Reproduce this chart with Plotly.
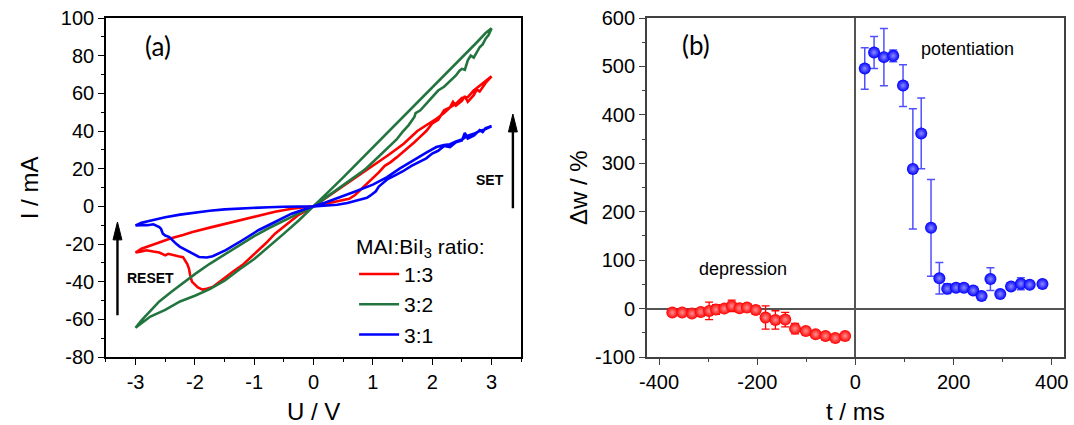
import plotly.graph_objects as go

# ---------------- (a) I-V loops, one closed sweep per composition ----------------
# sweep order: 0 -> +3 V, +3 -> 0 V, 0 -> -3 V, -3 -> 0 V
u_13 = [0, 0.1, 0.2, 0.3, 0.4, 0.5, 0.6, 0.7, 0.8, 0.9, 1.0, 1.1, 1.2, 1.3, 1.4, 1.5, 1.6, 1.7,
        1.8, 1.9, 2.0, 2.1, 2.2, 2.3, 2.35, 2.4, 2.5, 2.55, 2.6, 2.7, 2.75, 2.8, 2.9, 3.0,
        2.9, 2.8, 2.7, 2.6, 2.5, 2.4, 2.3, 2.2, 2.07, 1.75, 1.52, 1.25, 0.96, 0.7, 0.4, 0.2, 0,
        -0.25, -0.37, -0.5, -0.65, -0.8, -0.93, -1.05, -1.2, -1.35, -1.48, -1.6, -1.7, -1.8, -1.87,
        -1.95, -2.0, -2.05, -2.08, -2.1, -2.13, -2.16, -2.2, -2.28, -2.37, -2.45, -2.5, -2.6, -2.7,
        -2.82, -2.9, -3.0,
        -2.9, -2.75, -2.6, -2.4, -2.2, -2.04, -1.75, -1.48, -1.2, -0.93, -0.65, -0.37, 0]
i_13 = [0, 0.6, 1.2, 1.8, 2.4, 3.1, 4.0, 6.0, 9.0, 11.5, 14.5, 18.0, 21.5, 23.5, 26.0, 28.5, 31.0, 34.0,
        37.0, 40.0, 44.0, 46.0, 51.0, 52.5, 55.5, 53.5, 56.0, 58.5, 55.5, 59.0, 62.0, 61.0, 65.5, 69.0,
        66.5, 64.0, 61.5, 58.0, 57.5, 54.5, 52.5, 49.5, 46.5, 40.0, 33.2, 27.0, 20.8, 15.0, 8.5, 4.2, 0,
        -4.5, -7.4, -10.5, -14.5, -19.5, -23.3, -26.5, -31.2, -34.5, -37.5, -40.5, -42.8, -43.8, -44.2,
        -43.1, -41.5, -40.0, -36.5, -33.0, -30.5, -29.0, -27.0, -26.5, -26.0, -25.2, -26.0, -24.5, -24.0,
        -23.3, -24.0, -24.5,
        -22.5, -20.8, -18.9, -17.0, -15.2, -13.6, -11.3, -9.2, -7.0, -4.8, -2.9, -1.3, 0]

u_32 = [0, 0.1, 0.2, 0.3, 0.4, 0.5, 0.6, 0.7, 0.8, 0.9, 1.0, 1.1, 1.2, 1.3, 1.35, 1.4, 1.5, 1.6, 1.7,
        1.72, 1.8, 1.9, 2.0, 2.1, 2.2, 2.3, 2.4, 2.46, 2.5, 2.55, 2.6, 2.65, 2.7, 2.8, 2.85, 2.9, 2.95, 3.0,
        2.9, 2.75, 2.5, 2.25, 2.0, 1.75, 1.5, 1.25, 1.0, 0.75, 0.5, 0.25, 0,
        -0.25, -0.5, -0.75, -1.0, -1.25, -1.5, -1.75, -2.0, -2.25, -2.5, -2.75, -3.0,
        -2.9, -2.75, -2.6, -2.4, -2.2, -2.0, -1.75, -1.5, -1.25, -1.0, -0.75, -0.5, -0.25, 0]
i_32 = [0, 2.2, 4.5, 6.8, 9.0, 11.3, 13.5, 15.8, 18.0, 20.5, 23.5, 26.5, 29.5, 33.0, 34.5, 35.5, 39.5, 43.0, 47.5,
        49.5, 51.0, 54.5, 57.5, 61.5, 63.5, 66.5, 69.5, 72.0, 73.0, 72.5, 77.5, 80.0, 79.0, 84.5, 86.0, 89.0, 91.0, 94.5,
        92.0, 87.0, 79.0, 71.0, 63.0, 55.0, 47.0, 39.0, 31.0, 23.2, 15.4, 7.7, 0,
        -7.5, -14.5, -21.5, -28.0, -33.5, -39.5, -44.0, -47.5, -50.5, -55.0, -58.5, -64.5,
        -60.5, -55.5, -50.5, -45.5, -40.5, -36.0, -30.5, -25.5, -20.5, -15.8, -11.5, -7.5, -3.7, 0]

u_31 = [0, 0.2, 0.4, 0.57, 0.7, 0.8, 0.9, 0.96, 1.05, 1.1, 1.18, 1.25, 1.35, 1.5, 1.65, 1.8, 1.9, 2.0,
        2.1, 2.2, 2.3, 2.4, 2.5, 2.55, 2.6, 2.7, 2.8, 2.85, 2.9, 3.0,
        2.9, 2.8, 2.7, 2.6, 2.5, 2.4, 2.3, 2.2, 2.07, 1.9, 1.68, 1.45, 1.24, 1.0, 0.68, 0.4, 0.2, 0,
        -0.37, -0.65, -0.93, -1.2, -1.48, -1.7, -1.8, -1.93, -2.05, -2.15, -2.25, -2.32, -2.38, -2.43,
        -2.5, -2.54, -2.57, -2.6, -2.7, -2.8, -2.9, -3.0,
        -2.9, -2.75, -2.5, -2.25, -2.0, -1.75, -1.5, -1.25, -1.0, -0.75, -0.5, -0.25, 0]
i_31 = [0, 0.3, 0.8, 1.8, 2.8, 3.6, 4.5, 5.8, 8.0, 10.5, 12.5, 14.5, 16.0, 18.5, 21.5, 24.0, 25.5, 28.0,
        29.5, 32.0, 31.5, 34.0, 35.0, 39.0, 36.0, 37.5, 40.5, 39.5, 41.5, 42.5,
        41.0, 40.0, 38.5, 37.5, 35.5, 34.5, 33.0, 32.5, 31.5, 28.5, 24.4, 20.0, 15.5, 11.5, 7.6, 4.2, 2.0, 0,
        -3.9, -8.3, -12.7, -18.0, -23.3, -26.5, -27.2, -26.9, -25.0, -23.3, -21.5, -19.8, -18.0, -16.3,
        -15.5, -14.5, -12.0, -11.0, -9.5, -10.0, -10.0, -10.2,
        -8.7, -7.5, -5.8, -4.4, -3.2, -2.3, -1.6, -1.1, -0.7, -0.45, -0.25, -0.1, 0]

# ---------------- (b) weight change vs. spike timing ----------------
t_dep = [-373, -353, -333, -315, -298, -284, -267, -252, -236, -221,
         -203, -183, -163, -143, -123, -101, -81, -61, -41, -21]
w_dep = [-8.3, -8.3, -10.4, -6.9, -4.8, -2.1, 0.0, 5.5, 0.7, 2.0,
         -2.8, -18.6, -23.5, -22.8, -41.4, -46.2, -53.1, -56.6, -60.7, -56.6]
e_dep = [3, 3, 3, 4, 18, 10, 5, 12, 5, 6,
         8, 24, 19, 15, 11, 5, 3, 3, 3, 3]

t_pot = [19, 38, 58, 77, 97, 117, 134, 154, 171, 187,
         205, 221, 240, 257, 275, 295, 317, 337, 355, 381]
w_pot = [495.7, 528.8, 519.2, 521.9, 460.4, 288.4, 361.6, 166.7, 62.4, 41.0,
         43.1, 43.1, 37.5, 25.8, 61.0, 29.9, 45.8, 51.3, 49.3, 50.6]
e_pot = [43, 33, 59, 12, 43, 124, 73, 100, 32.5, 10,
         8, 5, 4, 3, 23.5, 4, 5, 12.5, 4, 4]

# tick labels (plain hyphen for negatives)
u_ticks = [-3, -2, -1, 0, 1, 2, 3]
i_ticks = [-80, -60, -40, -20, 0, 20, 40, 60, 80, 100]
t_ticks = [-400, -200, 0, 200, 400]
w_ticks = [-100, 0, 100, 200, 300, 400, 500, 600]

RED = "#ff0000"
GREEN = "#237540"
BLUE = "#0000ff"
FONT = "Arial, Liberation Sans, sans-serif"

fig = go.Figure()

for u, i, name, col in [(u_13, i_13, "1:3", RED), (u_32, i_32, "3:2", GREEN), (u_31, i_31, "3:1", BLUE)]:
    fig.add_trace(go.Scatter(x=u, y=i, mode="lines", name=name,
                             line=dict(color=col, width=2.6), xaxis="x", yaxis="y"))

fig.add_trace(go.Scatter(
    x=t_dep, y=w_dep, mode="markers", showlegend=False, xaxis="x2", yaxis="y2",
    marker=dict(size=12, color=RED, line=dict(width=0),
                gradient=dict(type="radial", color="#ff9090")),
    error_y=dict(type="data", array=e_dep, visible=True, color=RED, thickness=1.3, width=4)))
fig.add_trace(go.Scatter(
    x=t_pot, y=w_pot, mode="markers", showlegend=False, xaxis="x2", yaxis="y2",
    marker=dict(size=12, color=BLUE, line=dict(width=0),
                gradient=dict(type="radial", color="#8c8cff")),
    error_y=dict(type="data", array=e_pot, visible=True, color="#5050ff", thickness=1.5, width=4)))


def labels(vals):
    return [str(v) for v in vals]


tickfont = dict(family=FONT, size=20, color="black")
common = dict(showline=True, mirror=True, linewidth=1.5, ticks="outside", ticklen=6,
              tickwidth=1.3, showgrid=False, tickfont=tickfont, tickmode="array")

fig.update_layout(
    width=1074, height=425,
    margin=dict(l=0, r=0, t=18, b=68),
    paper_bgcolor="white", plot_bgcolor="white",
    font=dict(family=FONT, color="black"),
    xaxis=dict(domain=[99 / 1074, 519 / 1074], range=[-3.5, 3.5],
               tickvals=u_ticks, ticktext=labels(u_ticks), zeroline=False,
               linecolor="black", tickcolor="black",
               minor=dict(dtick=0.5, ticklen=3.5, ticks="outside", tickcolor="black"), **common),
    yaxis=dict(range=[-80, 100], tickvals=i_ticks, ticktext=labels(i_ticks),
               zeroline=False, linecolor="black", tickcolor="black",
               minor=dict(dtick=10, ticklen=3.5, ticks="outside", tickcolor="black"), **common),
    xaxis2=dict(domain=[646 / 1074, 1068 / 1074], range=[-425, 425],
                tickvals=t_ticks, ticktext=labels(t_ticks), anchor="y2",
                zeroline=True, zerolinecolor="#555555", zerolinewidth=1.5,
                linecolor="#404040", tickcolor="#404040",
                minor=dict(dtick=100, ticklen=3.5, ticks="outside", tickcolor="#404040"), **common),
    yaxis2=dict(range=[-100, 600], tickvals=w_ticks, ticktext=labels(w_ticks), anchor="x2",
                zeroline=True, zerolinecolor="#555555", zerolinewidth=1.5,
                linecolor="#404040", tickcolor="#404040",
                minor=dict(dtick=50, ticklen=3.5, ticks="outside", tickcolor="#404040"), **common),
    legend=dict(x=350 / 1074, y=0.385, xanchor="left", yanchor="top",
                bgcolor="rgba(0,0,0,0)", font=dict(family=FONT, size=21),
                title=dict(text="MAI:BiI<sub>3</sub> ratio:", font=dict(family=FONT, size=21)),
                itemwidth=40, tracegroupgap=0),
)

ann = []
# axis titles
ann.append(dict(text="U / V", xref="paper", yref="paper", x=309 / 1074, y=(357 - 411) / 339,
                showarrow=False, font=dict(size=24), xanchor="center", yanchor="middle"))
ann.append(dict(text="t / ms", xref="paper", yref="paper", x=857 / 1074, y=(357 - 411) / 339,
                showarrow=False, font=dict(size=24), xanchor="center", yanchor="middle"))
ann.append(dict(text="I / mA", xref="paper", yref="paper", x=22 / 1074, y=0.5, textangle=-90,
                showarrow=False, font=dict(size=24), xanchor="center", yanchor="middle"))
ann.append(dict(text="\u0394w / %", xref="paper", yref="paper", x=577 / 1074, y=0.5, textangle=-90,
                showarrow=False, font=dict(size=24), xanchor="center", yanchor="middle"))
# panel labels
ann.append(dict(text="(a)", xref="x", yref="y", x=-2.62, y=85.4, showarrow=False,
                font=dict(size=26, family="Lato, sans-serif")))
ann.append(dict(text="(b)", xref="x2", yref="y2", x=-325, y=544, showarrow=False,
                font=dict(size=26, family="Lato, sans-serif")))
ann.append(dict(text="potentiation", xref="x2", yref="y2", x=228, y=536, showarrow=False,
                font=dict(size=18)))
ann.append(dict(text="depression", xref="x2", yref="y2", x=-228, y=82, showarrow=False,
                font=dict(size=18)))
ann.append(dict(text="<b>SET</b>", xref="x", yref="y", x=2.97, y=13.8, showarrow=False,
                font=dict(size=14)))
ann.append(dict(text="<b>RESET</b>", xref="x", yref="y", x=-2.75, y=-37.8, showarrow=False,
                font=dict(size=14)))
fig.update_layout(annotations=ann)

# SET / RESET arrows: shaft plus filled head
shapes = []
for xa, y0, y1 in [(3.36, -1, 49), (-3.305, -57.8, -8.3)]:
    shapes.append(dict(type="line", xref="x", yref="y", x0=xa, x1=xa, y0=y0, y1=y1 - 8,
                       line=dict(color="black", width=2.4)))
    shapes.append(dict(type="path", xref="x", yref="y",
                       path=f"M {xa - 0.075},{y1 - 9.5} L {xa + 0.075},{y1 - 9.5} L {xa},{y1} Z",
                       fillcolor="black", line=dict(color="black", width=1)))
fig.update_layout(shapes=shapes)

fig.write_html("out.html")
